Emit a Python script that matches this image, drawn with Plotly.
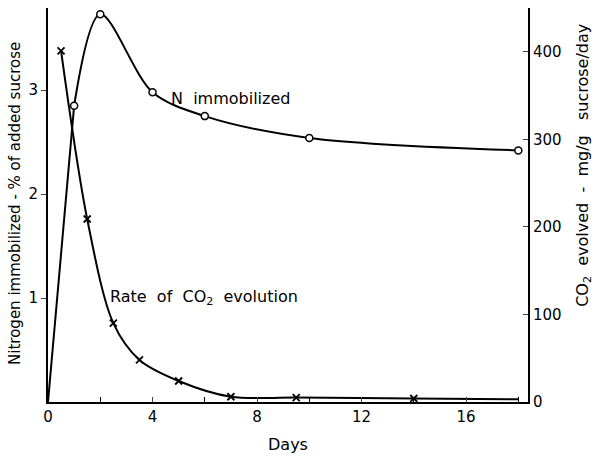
import plotly.graph_objects as go

# N immobilized (% of added sucrose), left axis
n_days = [0, 1, 2, 4, 6, 10, 18]
n_values = [0, 2.85, 3.73, 2.98, 2.75, 2.54, 2.42]

# Rate of CO2 evolution (mg/g sucrose/day), right axis
co2_days = [0.5, 1.5, 2.5, 3.5, 5, 7, 9.5, 14, 18]
co2_values = [401, 209, 90, 48, 24, 6, 5, 4, 3]
co2_marker_days = co2_days[:-1]
co2_marker_values = co2_values[:-1]

x_ticks = [0, 4, 8, 12, 16]
left_ticks = [1, 2, 3]
right_ticks = [0, 100, 200, 300, 400]

FONT = "DejaVu Sans"
NB = "\u00a0"
fig = go.Figure()

# straight rise from the origin, then smooth curve
fig.add_trace(go.Scatter(x=n_days[:2], y=n_values[:2], mode="lines",
                         line=dict(color="black", width=2),
                         showlegend=False, hoverinfo="skip"))
fig.add_trace(go.Scatter(x=n_days[1:], y=n_values[1:], mode="lines",
                         line=dict(color="black", width=2, shape="spline", smoothing=0.9),
                         showlegend=False, hoverinfo="skip"))
fig.add_trace(go.Scatter(x=n_days[1:], y=n_values[1:], mode="markers",
                         marker=dict(symbol="circle", size=7, color="white",
                                     line=dict(color="black", width=1.5)),
                         showlegend=False))
fig.add_trace(go.Scatter(x=co2_days, y=co2_values, mode="lines", yaxis="y2",
                         line=dict(color="black", width=2, shape="spline", smoothing=0.9),
                         showlegend=False, hoverinfo="skip"))
fig.add_trace(go.Scatter(x=co2_marker_days, y=co2_marker_values, mode="markers", yaxis="y2",
                         marker=dict(symbol="x-thin-open", size=7, color="black",
                                     line=dict(color="black", width=1.8)),
                         showlegend=False))

fig.update_layout(
    width=594, height=459,
    margin=dict(l=48, r=66, t=8, b=57),
    paper_bgcolor="white", plot_bgcolor="white",
    font=dict(family=FONT, size=15, color="black"),
    xaxis=dict(range=[0, 18.37], tickvals=x_ticks, ticks="inside", ticklen=5,
               showline=True, linecolor="black", linewidth=2, showgrid=False,
               zeroline=False, tickfont=dict(size=15),
               minor=dict(ticks="inside", dtick=2, ticklen=5, tickcolor="black")),
    yaxis=dict(range=[0, 3.79], tickvals=left_ticks, ticks="outside", ticklen=5,
               showline=True, linecolor="black", linewidth=2, showgrid=False,
               zeroline=False, tickfont=dict(size=15)),
    yaxis2=dict(range=[0, 450], tickvals=right_ticks, ticks="inside", ticklen=5,
                overlaying="y", side="right",
                showline=True, linecolor="black", linewidth=2, showgrid=False,
                zeroline=False, tickfont=dict(size=15)),
    annotations=[
        dict(text="Nitrogen immobilized - % of added sucrose", xref="paper", yref="paper",
             x=-0.069, y=0.505, textangle=-90, showarrow=False, font=dict(size=15),
             xanchor="center", yanchor="middle"),
        dict(text=f"CO<sub>2</sub>{NB}{NB}evolved{NB}{NB}-{NB}{NB}mg/g{NB}{NB}{NB}sucrose/day",
             xref="paper", yref="paper",
             x=1.115, y=0.6, textangle=-90, showarrow=False, font=dict(size=16),
             xanchor="center", yanchor="middle"),
        dict(text="Days", xref="paper", yref="paper", x=0.5, y=-0.109,
             showarrow=False, font=dict(size=16), xanchor="center", yanchor="middle"),
        dict(text=f"N{NB}{NB}immobilized", x=7.0, y=2.92, showarrow=False, font=dict(size=16),
             xanchor="center", yanchor="middle"),
        dict(text=f"Rate{NB}{NB}of{NB}{NB}CO<sub>2</sub>{NB}{NB}evolution", x=5.96, y=1.01,
             showarrow=False, font=dict(size=16), xanchor="center", yanchor="middle"),
    ],
)

fig.write_html("out.html")
